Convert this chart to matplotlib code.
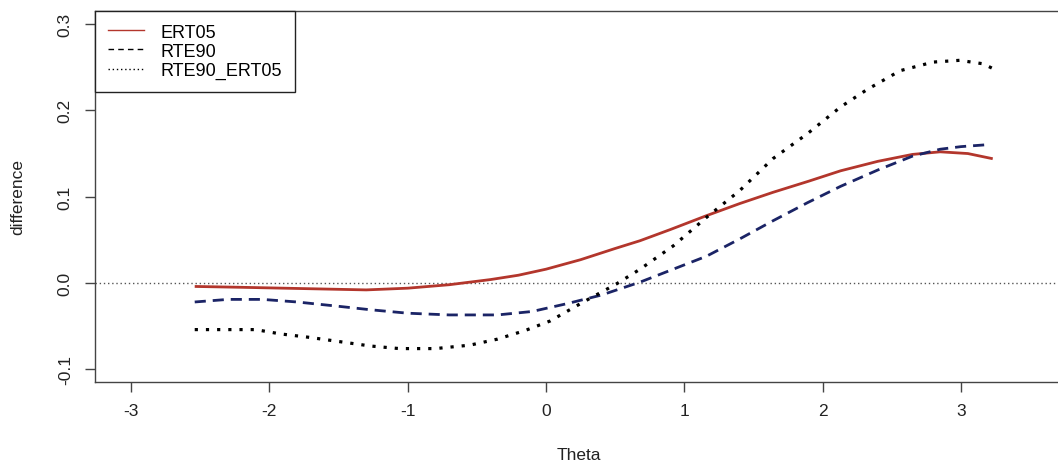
import matplotlib
matplotlib.use("Agg")
import matplotlib.pyplot as plt
from matplotlib.lines import Line2D

plt.rcParams['font.family'] = ['Liberation Sans', 'DejaVu Sans']

# ERT05 (solid red)
theta_ert = [-2.54, -2.2, -1.9, -1.6, -1.3, -1.0, -0.7, -0.4, -0.2, 0.0, 0.25, 0.5,
             0.68, 0.9, 1.16, 1.4, 1.64, 1.9, 2.13, 2.4, 2.65, 2.85, 3.05, 3.23]
diff_ert = [-0.004, -0.005, -0.006, -0.007, -0.008, -0.006, -0.002, 0.004, 0.009, 0.016, 0.027, 0.040,
            0.049, 0.062, 0.078, 0.092, 0.105, 0.118, 0.130, 0.141, 0.149, 0.152, 0.150, 0.144]

# RTE90 (dashed navy)
theta_rte = [-2.54, -2.3, -2.05, -1.8, -1.5, -1.27, -1.0, -0.7, -0.35, -0.1, 0.15, 0.4,
             0.68, 0.92, 1.16, 1.4, 1.64, 1.89, 2.13, 2.4, 2.65, 2.85, 3.0, 3.17]
diff_rte = [-0.022, -0.019, -0.019, -0.022, -0.027, -0.031, -0.035, -0.037, -0.037, -0.033, -0.024, -0.014,
            0.001, 0.016, 0.031, 0.051, 0.072, 0.093, 0.112, 0.131, 0.147, 0.155, 0.158, 0.160]

# RTE90_ERT05 (dotted black)
theta_both = [-2.54, -2.1, -1.92, -1.71, -1.49, -1.27, -1.06, -0.8, -0.55, -0.35, -0.15, 0.03, 0.27,
              0.51, 0.68, 0.92, 1.16, 1.40, 1.64, 1.89, 2.13, 2.32, 2.56, 2.8, 2.99, 3.16, 3.25]
diff_both = [-0.054, -0.054, -0.059, -0.063, -0.068, -0.073, -0.076, -0.076, -0.072, -0.065, -0.055, -0.044, -0.022,
             -0.001, 0.016, 0.043, 0.076, 0.107, 0.144, 0.173, 0.204, 0.224, 0.246, 0.256, 0.258, 0.254, 0.247]

series_names = ['ERT05', 'RTE90', 'RTE90_ERT05']
x_ticks = [-3, -2, -1, 0, 1, 2, 3]
y_ticks = [-0.1, 0.0, 0.1, 0.2, 0.3]

red = '#b3362c'
navy = '#1b2466'
axis_col = '#444444'

fig = plt.figure(figsize=(10.58, 4.64), dpi=100)
ax = fig.add_axes([0.0898, 0.1746, 0.914, 0.7996])

ax.axhline(0, color='#555555', lw=1.0, linestyle=(0, (1, 2)), zorder=1)
ax.plot(theta_ert, diff_ert, color=red, lw=2.0, solid_capstyle='butt', zorder=3)
ax.plot(theta_rte, diff_rte, color=navy, lw=2.0, linestyle=(0, (4, 2.5)), zorder=3)
ax.plot(theta_both, diff_both, color='black', lw=2.3, linestyle=(0, (1, 2.5)), zorder=3)

ax.set_xlim(-3.261, 3.731)
ax.set_ylim(-0.1147, 0.3152)
ax.set_xticks(x_ticks)
ax.set_xticklabels([str(t) for t in x_ticks])
ax.set_yticks(y_ticks)
ax.set_yticklabels(['%.1f' % t for t in y_ticks])

for s in ax.spines.values():
    s.set_color(axis_col)
    s.set_linewidth(1.0)
ax.tick_params(axis='both', length=7, width=1, color=axis_col, labelsize=12.5, labelcolor='#222222')
ax.tick_params(axis='x', pad=8)
ax.tick_params(axis='y', pad=9)
for lab in ax.get_yticklabels():
    lab.set_rotation(90)
    lab.set_va('center')

ax.set_xlabel('Theta', fontsize=12.5, color='#222222')
ax.set_ylabel('difference', fontsize=12.5, color='#222222')
ax.xaxis.set_label_coords(0.5, -0.175)
ax.yaxis.set_label_coords(-0.072, 0.5)

handles = [
    Line2D([], [], color=red, lw=1.0),
    Line2D([], [], color='black', lw=1.0, linestyle=(0, (4, 3))),
    Line2D([], [], color='black', lw=1.0, linestyle=(0, (1, 2))),
]
leg = ax.legend(handles, series_names, loc='upper left', bbox_to_anchor=(0, 1),
                borderaxespad=0, fancybox=False, framealpha=1, edgecolor='#222222',
                fontsize=13, borderpad=0.7, labelspacing=0.12, handlelength=2.0,
                handletextpad=0.95)
leg.get_frame().set_linewidth(1.0)
leg.set_zorder(5)

fig.savefig('out.png', dpi=100)
